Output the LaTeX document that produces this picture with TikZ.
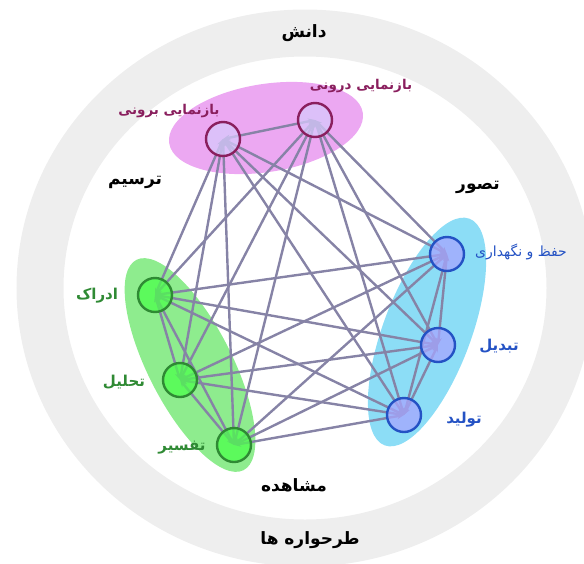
\documentclass[tikz,border=0pt]{standalone}
\usepackage{fontspec}
\usetikzlibrary{arrows.meta,backgrounds}
\newfontfamily\fa[Script=Arabic]{DejaVu Sans}
\TeXXeTstate=1

\definecolor{ringgray}{HTML}{EEEEEE}
\definecolor{linkgray}{HTML}{8683A6}
\definecolor{pinkblob}{HTML}{ECA8F2}
\definecolor{greenblob}{HTML}{8EEC8E}
\definecolor{blueblob}{HTML}{8CDDF6}
\definecolor{pinkdark}{HTML}{8A1F5E}
\definecolor{greendark}{HTML}{2F8A34}
\definecolor{bluedark}{HTML}{2452C4}

\tikzset{
  vert/.style={circle,minimum size=34pt,inner sep=0pt,line width=2.4pt,fill opacity=0.75,draw opacity=1},
  pinkvert/.style={vert,draw=pinkdark,fill=pinkblob!60!blue!35!white},
  greenvert/.style={vert,draw=greendark,fill=green!70!white},
  bluevert/.style={vert,draw=bluedark,fill=blue!35!white},
  link/.style={draw=linkgray,line width=2.4pt,{Stealth[length=7pt,width=6pt]}-{Stealth[length=7pt,width=6pt]}},
  word/.style={font=\fa\bfseries\fontsize{17pt}{19pt}\selectfont,text=black},
  lab/.style={font=\fa\bfseries\fontsize{15pt}{17pt}\selectfont}
}

\begin{document}
\begin{tikzpicture}[x=1pt,y=-1pt]
  \useasboundingbox (0,0) rectangle (584,563);
  \clip (0,0) rectangle (584,563);

  % the eight vertices
  \node[pinkvert] (1) at (223,139) {};
  \node[pinkvert] (2) at (315,120) {};
  \node[bluevert] (3) at (447,254) {};
  \node[bluevert] (4) at (438,345) {};
  \node[bluevert] (5) at (404,415) {};
  \node[greenvert] (6) at (155,295) {};
  \node[greenvert] (7) at (180,380) {};
  \node[greenvert] (8) at (234,445) {};

  % labels
  \node[lab,text=pinkdark,font=\fa\bfseries\fontsize{13.5pt}{15pt}\selectfont] (l1) at (169,111) {\beginR بازنمایی برونی\endR};
  \node[lab,text=pinkdark,font=\fa\bfseries\fontsize{13.5pt}{15pt}\selectfont] (l2) at (361,86) {\beginR بازنمایی درونی\endR};
  \node[lab,text=bluedark,font=\fa\fontsize{14pt}{16pt}\selectfont] (l3) at (521,252) {\beginR حفظ و نگهداری\endR};
  \node[lab,text=bluedark] (l4) at (499,346) {\beginR تبدیل\endR};
  \node[lab,text=bluedark] (l5) at (464,420) {\beginR تولید\endR};
  \node[lab,text=greendark] (l6) at (97,296) {\beginR ادراک\endR};
  \node[lab,text=greendark] (l7) at (124,382) {\beginR تحلیل\endR};
  \node[lab,text=greendark] (l8) at (182,448) {\beginR تفسیر\endR};

  \node[word] (w1) at (304,33) {\beginR دانش\endR};
  \node[word] (w2) at (135,182) {\beginR ترسیم\endR};
  \node[word] (w3) at (478,187) {\beginR تصور\endR};
  \node[word] (w4) at (294,485) {\beginR مشاهده\endR};
  \node[word] (w5) at (310,540) {\beginR طرحواره ها\endR};

  \begin{pgfonlayer}{background}
    \draw[ringgray,line width=47pt] (305,288) ellipse [x radius=265pt,y radius=255pt];
    \fill[pinkblob,rotate around={9:(266,128)}] (266,128) ellipse [x radius=98pt,y radius=44pt];
    \fill[greenblob,rotate around={-63:(190,365)}] (190,365) ellipse [x radius=118pt,y radius=42pt];
    \fill[blueblob,rotate around={69.5:(427,332)}] (427,332) ellipse [x radius=121pt,y radius=44pt];
    % every vertex linked to every other one
    \foreach \i in {1,...,7} {
      \pgfmathtruncatemacro\k{\i+1}
      \foreach \j in {\k,...,8}
        \draw[link] (\i.center) -- (\j.center);
    }
  \end{pgfonlayer}
\end{tikzpicture}
\end{document}
